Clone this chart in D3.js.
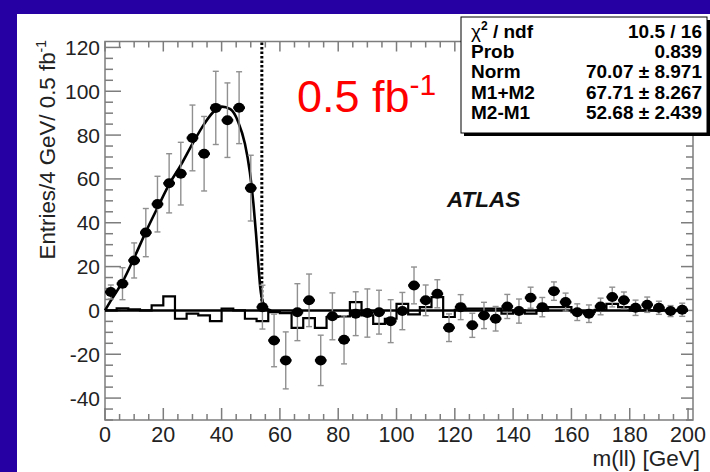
<!DOCTYPE html>
<html><head><meta charset="utf-8">
<script src="https://cdn.jsdelivr.net/npm/d3@7/dist/d3.min.js"></script>
<style>body{margin:0;padding:0;overflow:hidden}svg{display:block}</style>
</head><body>
<svg id="chart" width="710" height="472"></svg>
<script>
// ---- data ----
const binCenters = [2,6,10,14,18,22,26,30,34,38,42,46,50,54,58,62,66,70,74,78,82,86,90,94,98,102,106,110,114,118,122,126,130,134,138,142,146,150,154,158,162,166,170,174,178,182,186,190,194,198];
const dataValues = [8.4,12.2,22.8,35.5,48.5,58,62.4,78.7,71.5,92.4,86.8,92.5,55.8,1.5,-13.7,-22.8,-0.8,4.6,-22.8,-2.7,-13.4,-1.5,-1.2,-0.8,-4.9,-0.3,11.4,4.6,7.6,-7.9,1.5,-6.8,-2.3,-3.8,1.8,-0.3,5.8,1.5,8.8,3.8,-0.8,-1.5,1.8,6.1,4.6,1.2,2.6,1.2,-0.3,0.3];
const dataErrors = [3.2,7.3,8,11,12.7,13.5,14.3,15,17,16.7,17,16.4,15,10,12,13,13,12,11.5,10.7,11,10,11,10,9.8,8.5,8.4,7,6.4,6.3,5.7,5.5,6,5.6,5.5,5.5,4.8,4.4,4.2,4.1,3.8,4,3.8,4.5,3.8,3.5,3.5,3,2.5,3];
const histValues = [0,1,0.5,0,2.3,6.4,-3.8,-1.5,-2.3,-4.9,0.8,0,-3.8,-4.9,-0.8,-1.2,-8,-3.5,-8,-3,-2.7,3.8,-2.3,-6.1,-3.8,3,-1.8,1.5,6.1,-3,0.3,0.8,0.8,0.8,-1.5,0,-1.5,0,1.5,1.5,-0.8,-0.8,0.3,3,1.5,0,0,0,0,0];
const binWidth = 4;
const fitX = [0,2,6,10,14,18,22,26,30,34,37,40,43,45.7,48,49.7,50.9,51.8,52.6,53.3,54.2,55.5,57];
const fitY = [0,4.5,13,24,35.8,46.8,57.5,66.3,76,85,90.3,93,91.8,86,76,63,49,35,21,10,3.5,0.8,0];
const endpointX = 53.8;
const xTickLabels = [0,20,40,60,80,100,120,140,160,180,200];
const yTickLabels = [-40,-20,0,20,40,60,80,100,120];
const statNames = ["χ2 / ndf","Prob","Norm","M1+M2","M2-M1"];
const statValues = ["10.5 / 16","0.839","70.07 ± 8.971","67.71 ± 8.267","52.68 ± 2.439"];
const lumiText = "0.5 fb";
const xTitle = "m(ll) [GeV]";
const yTitle = "Entries/4 GeV/ 0.5 fb";

// ---- layout ----
const svg = d3.select("#chart");
const L = 105, R = 693, T = 41.5, B = 420;
const x = d3.scaleLinear().domain([0, 201.7]).range([L, R]);
const y = d3.scaleLinear().domain([-50, 122.7]).range([B, T]);
const font = "'Liberation Sans', Arial, Helvetica, sans-serif";
const axisCol = "#7d7d7d";

svg.append("rect").attr("width",710).attr("height",472).attr("fill","#2600a3");
svg.append("rect").attr("x",17).attr("y",14).attr("width",693).attr("height",458).attr("fill","#fff");

// frame
const g = svg.append("g");
g.append("rect").attr("x",L).attr("y",T).attr("width",R-L).attr("height",B-T)
  .attr("fill","none").attr("stroke",axisCol).attr("stroke-width",1.5);

// ticks
const xMinor = d3.range(0, 201, 5);
const yMinor = d3.range(-50, 121, 5);
const tk = g.append("g").attr("stroke",axisCol).attr("stroke-width",1.5);
xMinor.forEach(v => {
  const maj = v % 20 === 0;
  const px = x(v);
  tk.append("line").attr("x1",px).attr("x2",px).attr("y1",B).attr("y2",B-(maj?12:6));
  tk.append("line").attr("x1",px).attr("x2",px).attr("y1",T).attr("y2",T+(maj?10:6));
});
yMinor.forEach(v => {
  const maj = v % 20 === 0;
  const py = y(v);
  tk.append("line").attr("x1",L).attr("x2",L+(maj?16:8)).attr("y1",py).attr("y2",py);
  tk.append("line").attr("x1",R).attr("x2",R-(maj?12:7)).attr("y1",py).attr("y2",py);
});

// tick labels
g.selectAll(".xl").data(xTickLabels).join("text")
  .attr("x",d=>x(d)).attr("y",442).attr("text-anchor","middle")
  .attr("font-family",font).attr("font-size",21.5).attr("fill","#222").text(d=>d);
g.selectAll(".yl").data(yTickLabels).join("text")
  .attr("x",100).attr("y",d=>y(d)).attr("dy","0.36em").attr("text-anchor","end")
  .attr("font-family",font).attr("font-size",21).attr("fill","#222").text(d=>d);

// axis titles
svg.append("text").attr("x",700).attr("y",466).attr("text-anchor","end")
  .attr("font-family",font).attr("font-size",22.5).attr("fill","#222").text(xTitle);
const yt = svg.append("text").attr("transform","translate(55,40) rotate(-90)").attr("text-anchor","end")
  .attr("font-family",font).attr("font-size",22.3).attr("fill","#222");
yt.append("tspan").text(yTitle);
yt.append("tspan").attr("dy",-9).attr("font-size",14).text("-1");

// histogram
const histPts = [];
histValues.forEach((v,i) => { histPts.push([i*binWidth, v]); histPts.push([(i+1)*binWidth, v]); });
const lineXY = d3.line().x(d=>x(d[0])).y(d=>y(d[1]));
svg.append("path").attr("d", lineXY(histPts)).attr("fill","none").attr("stroke","#000").attr("stroke-width",2.2);

// zero line
svg.append("line").attr("x1",x(0)).attr("x2",x(200)).attr("y1",y(0)).attr("y2",y(0))
  .attr("stroke","#000").attr("stroke-width",2.5);

// fit curve
const fitLine = d3.line().x((d,i)=>x(fitX[i])).y((d,i)=>y(fitY[i])).curve(d3.curveMonotoneX);
svg.append("path").attr("d", fitLine(fitX)).attr("fill","none").attr("stroke","#000").attr("stroke-width",2.6);

// endpoint dotted line
svg.append("line").attr("x1",x(endpointX)).attr("x2",x(endpointX)).attr("y1",T+1).attr("y2",y(2))
  .attr("stroke","#000").attr("stroke-width",3).attr("stroke-dasharray","2.5,2");

// error bars
const eb = svg.append("g").attr("stroke","#909090").attr("stroke-width",1.4);
binCenters.forEach((c,i) => {
  const px = x(c), y1 = y(dataValues[i]+dataErrors[i]), y2 = y(dataValues[i]-dataErrors[i]);
  eb.append("line").attr("x1",px).attr("x2",px).attr("y1",y1).attr("y2",y2);
  eb.append("line").attr("x1",px-3).attr("x2",px+3).attr("y1",y1).attr("y2",y1);
  eb.append("line").attr("x1",px-3).attr("x2",px+3).attr("y1",y2).attr("y2",y2);
});
// markers
const mk = svg.append("g");
binCenters.forEach((c,i) => {
  mk.append("line").attr("x1",x(c-2)).attr("x2",x(c+2)).attr("y1",y(dataValues[i])).attr("y2",y(dataValues[i]))
    .attr("stroke","#000").attr("stroke-width",2.5);
  mk.append("ellipse").attr("cx",x(c)).attr("cy",y(dataValues[i])).attr("rx",5.5).attr("ry",5).attr("fill","#000");
});

// lumi label
const lt = svg.append("text").attr("x",297).attr("y",112).attr("font-family",font)
  .attr("font-size",45).attr("fill","#ff0000");
lt.append("tspan").text(lumiText);
lt.append("tspan").attr("dy",-17).attr("font-size",30).text("-1");

// ATLAS
svg.append("text").attr("x",447).attr("y",207).attr("font-family",font).attr("font-size",22.5)
  .attr("font-weight","bold").attr("font-style","italic").attr("fill","#111").text("ATLAS");

// stats box
const bx = 461, by = 17, bw = 246, bh = 116;
svg.append("rect").attr("x",bx+3).attr("y",by+3).attr("width",bw).attr("height",bh).attr("fill","#000");
svg.append("rect").attr("x",bx).attr("y",by).attr("width",bw).attr("height",bh)
  .attr("fill","#fff").attr("stroke","#000").attr("stroke-width",1);
statNames.forEach((n,i) => {
  const yy = 38 + i*20.2;
  const t = svg.append("text").attr("x",471).attr("y",yy).attr("font-family",font)
    .attr("font-size",19).attr("font-weight","bold").attr("fill","#000");
  if (i === 0) {
    t.append("tspan").attr("font-weight","normal").text("χ");
    t.append("tspan").attr("dy",-8).attr("font-size",12).text("2");
    t.append("tspan").attr("dy",8).text(" / ndf");
  } else t.text(n);
  svg.append("text").attr("x",702).attr("y",yy).attr("text-anchor","end").attr("font-family",font)
    .attr("font-size",19).attr("font-weight","bold").attr("fill","#000").text(statValues[i]);
});
</script>
</body></html>
